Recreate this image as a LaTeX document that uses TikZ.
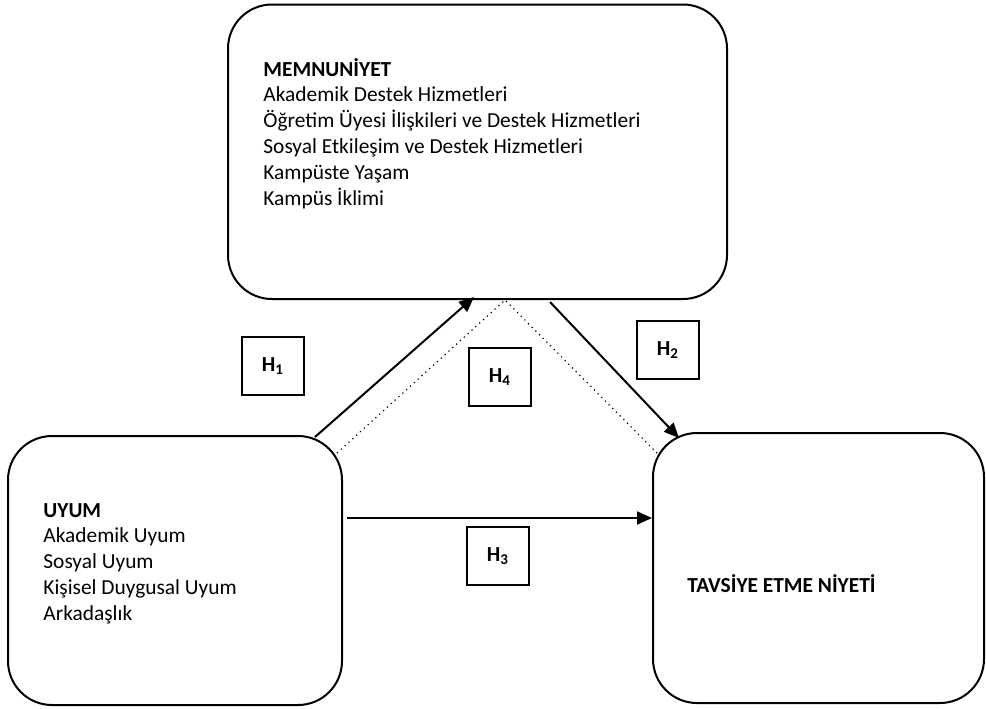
\documentclass[tikz,border=0pt]{standalone}
\usepackage{fontspec}
\setmainfont{Carlito}
\usetikzlibrary{arrows.meta}

\newcommand\diafont{\fontsize{10.7pt}{12.9pt}\selectfont}

\tikzset{
  bigbox/.style={draw, line width=1pt, rounded corners=22pt, inner sep=0pt},
  hbox/.style={draw, line width=0.75pt, minimum width=31pt, minimum height=29pt, inner sep=0pt, font=\diafont\bfseries},
  item/.style={anchor=base west, inner sep=0pt, font=\diafont},
  head/.style={item, font=\diafont\bfseries},
  link/.style={line width=1pt, -{Triangle[length=7.5pt,width=6.5pt]}},
}

\begin{document}
\begin{tikzpicture}[x=0.5pt, y=-0.5pt]
\useasboundingbox (0,0) rectangle (986,708);

% main boxes
\node[bigbox, minimum width=249.5pt, minimum height=147.25pt] (memnun) at (477.5,151.75) {};
\node[bigbox, minimum width=167pt, minimum height=134.5pt] (uyum) at (175,570.5) {};
\node[bigbox, minimum width=165.5pt, minimum height=135pt] (tavsiye) at (818.5,568) {};

% box texts
\node[head] (memnun0) at (263,76) {MEMNUNİYET};
\foreach \t [count=\i] in {Akademik Destek Hizmetleri, Öğretim Üyesi İlişkileri ve Destek Hizmetleri, Sosyal Etkileşim ve Destek Hizmetleri, Kampüste Yaşam, Kampüs İklimi}
  \node[item] (memnun\i) at (263,76+25.8*\i) {\t};

\node[head] (uyum0) at (43,517) {UYUM};
\foreach \t [count=\i] in {Akademik Uyum, Sosyal Uyum, Kişisel Duygusal Uyum, Arkadaşlık}
  \node[item] (uyum\i) at (43,517+25.8*\i) {\t};

\node[head] (tavsiye0) at (687,592) {TAVSİYE ETME NİYETİ};

% hypothesis labels
\node[hbox] (h1) at (273,366) {H\textsubscript{1}};
\node[hbox] (h2) at (668,350) {H\textsubscript{2}};
\node[hbox] (h3) at (498,556) {H\textsubscript{3}};
\node[hbox] (h4) at (500,377) {H\textsubscript{4}};

% connectors
\coordinate (h1from) at (315,437);
\coordinate (h1to) at (474,297);
\coordinate (h2from) at (550,302);
\coordinate (h2to) at (679,438);
\coordinate (h3from) at (347,518);
\coordinate (h3to) at (652,518);
\coordinate (h4from) at (337,453);
\coordinate (h4top) at (505,300);
\coordinate (h4to) at (658,454);

\draw[link] (h1from) -- (h1to);
\draw[link] (h2from) -- (h2to);
\draw[link] (h3from) -- (h3to);
\draw[dotted, line width=0.6pt] (h4from) -- (h4top) -- (h4to);
\end{tikzpicture}
\end{document}
